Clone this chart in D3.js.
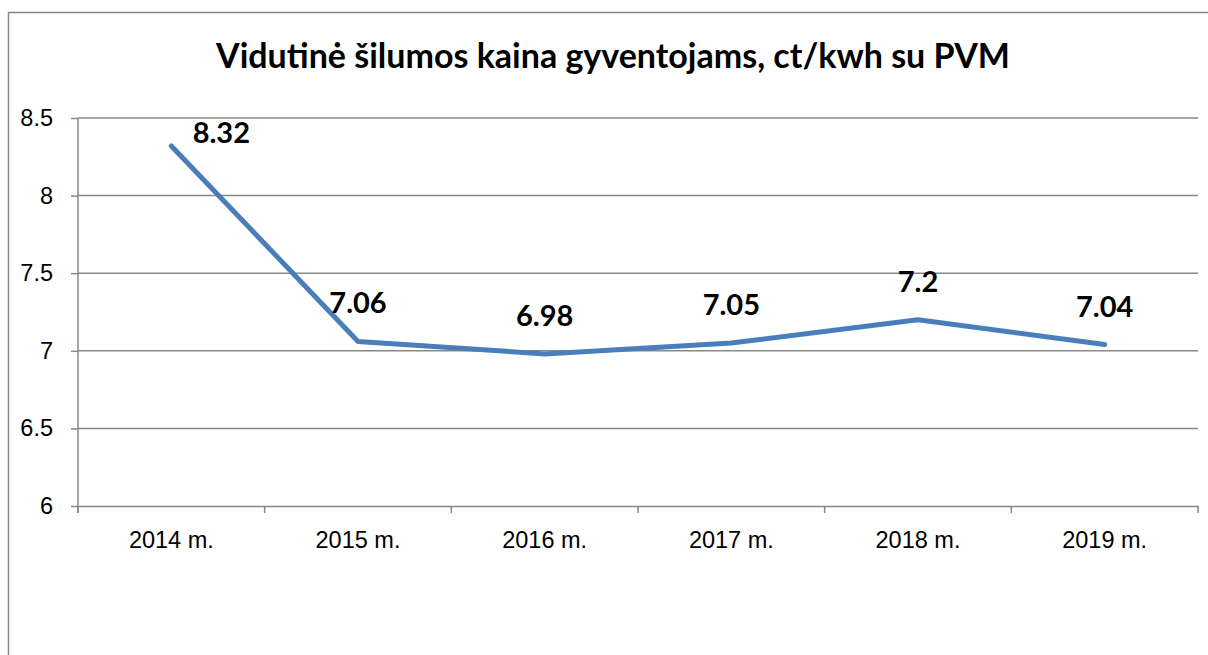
<!DOCTYPE html>
<html>
<head>
<meta charset="utf-8">
<script src="https://cdn.jsdelivr.net/npm/d3@7"></script>
<style>
  body { margin: 0; background: #fff; }
  svg { display: block; font-family: Lato, "Open Sans", sans-serif; }
  .axis path, .axis line { stroke: #888; stroke-width: 1.5; }
  .axis text { fill: #000; font-size: 23.5px; }
</style>
</head>
<body>
<svg id="chart" width="1208" height="655"></svg>
<script>
const title = "Vidutinė šilumos kaina gyventojams, ct/kwh su PVM";
const years = ["2014 m.", "2015 m.", "2016 m.", "2017 m.", "2018 m.", "2019 m."];
const prices = [8.32, 7.06, 6.98, 7.05, 7.2, 7.04];
const yTicks = [6, 6.5, 7, 7.5, 8, 8.5];

const svg = d3.select("#chart");
const plot = { left: 78, right: 1198, top: 118, bottom: 506 };

// outer frame, runs past the right and bottom edge like the screenshot
svg.append("rect")
  .attr("x", 8.5).attr("y", 12.5)
  .attr("width", 1230).attr("height", 700)
  .attr("fill", "none").attr("stroke", "#888").attr("stroke-width", 1.5);

svg.append("text")
  .attr("x", 613).attr("y", 68)
  .attr("text-anchor", "middle")
  .style("font-size", "34px").style("font-weight", "bold")
  .text(title);

const x = d3.scaleBand().domain(years).range([plot.left, plot.right]);
const y = d3.scaleLinear().domain([6, 8.5]).range([plot.bottom, plot.top]);
const cx = d => x(d) + x.bandwidth() / 2;

// gridlines
svg.append("g").selectAll("line").data(yTicks.filter(t => t > 6)).join("line")
  .attr("x1", plot.left).attr("x2", plot.right)
  .attr("y1", d => y(d)).attr("y2", d => y(d))
  .attr("stroke", "#888").attr("stroke-width", 1.5);

const gY = svg.append("g").attr("class", "axis")
  .attr("transform", `translate(${plot.left},0)`)
  .call(d3.axisLeft(y).tickValues(yTicks).tickFormat(d3.format("")).tickSize(7).tickPadding(18).tickSizeOuter(0));
gY.select(".domain").attr("d", `M0,${plot.top}V${plot.bottom + 7}`);

const gX = svg.append("g").attr("class", "axis")
  .attr("transform", `translate(0,${plot.bottom})`)
  .call(d3.axisBottom(x).tickSize(0).tickPadding(25).tickSizeOuter(0));

// tick marks sit between the categories
const bounds = years.map(d => x(d)).concat([plot.right]);
gX.selectAll(".bound").data(bounds).join("line").attr("class", "bound")
  .attr("x1", d => d).attr("x2", d => d)
  .attr("y1", 0).attr("y2", 7);

const line = d3.line().x((d, i) => cx(years[i])).y(d => y(d));
svg.append("path").datum(prices)
  .attr("d", line)
  .attr("fill", "none").attr("stroke", "#4a7ebb")
  .attr("stroke-width", 5).attr("stroke-linejoin", "round").attr("stroke-linecap", "round");

svg.append("g").selectAll("text").data(prices).join("text")
  .each(function(d, i) {
    let lx = cx(years[i]);
    let ly = y(d) - 28;
    // no room above the top point, so move it to the right
    if (ly - 20 < plot.top) { lx += 50; ly = y(d) - 3; }
    d3.select(this).attr("x", lx).attr("y", ly);
  })
  .attr("text-anchor", "middle")
  .style("font-size", "29px").style("font-weight", "bold")
  .text(d => d);
</script>
</body>
</html>
